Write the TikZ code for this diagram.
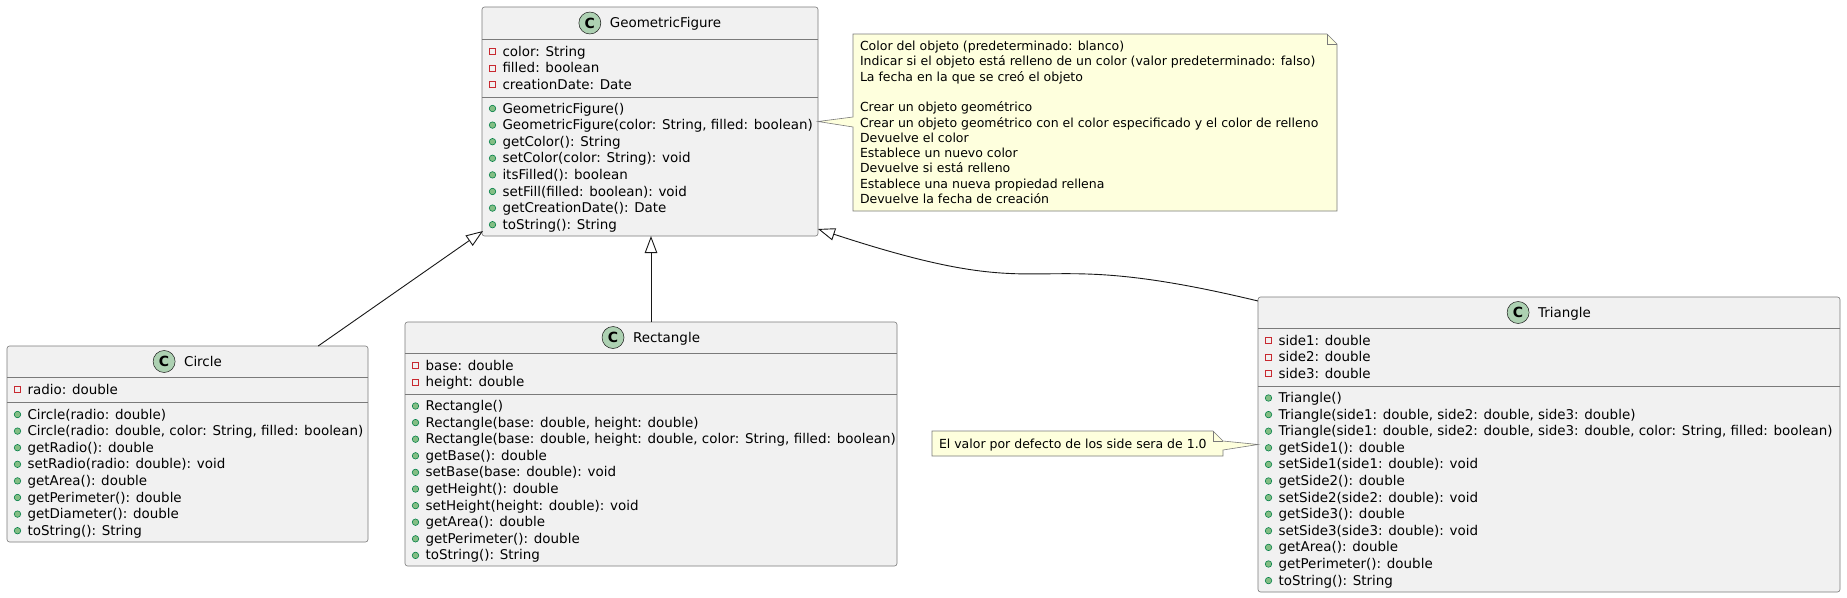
\documentclass[tikz,border=0pt]{standalone}
\usepackage{fontspec}
\setmainfont{DejaVu Sans}
\usetikzlibrary{arrows.meta,calc}
\definecolor{classbg}{HTML}{F1F1F1}
\definecolor{ink}{HTML}{181818}
\definecolor{boxline}{HTML}{7A7A7A}
\definecolor{spotbg}{HTML}{ADD1B2}
\definecolor{notebg}{HTML}{FEFFDD}
\definecolor{privred}{HTML}{C82930}
\definecolor{publight}{HTML}{84BE84}
\definecolor{pubdark}{HTML}{038048}
\tikzset{
  classbox/.style={draw=boxline, fill=classbg, line width=0.6pt, rounded corners=2.5pt,
    inner sep=0pt, outer sep=0pt, anchor=north west},
  sepline/.style={draw=boxline, line width=0.6pt},
  titletext/.style={inner sep=0pt, outer sep=0pt, text height=9.8pt, text depth=0pt,
    font=\fontsize{13.45}{16}\selectfont},
  spot/.style={circle, draw=ink, line width=0.5pt, fill=spotbg, minimum size=22pt,
    inner sep=0pt, font=\fontsize{14}{14}\selectfont\bfseries},
  member/.style={anchor=west, inner sep=0pt, outer sep=0pt, text height=9pt, text depth=0pt,
    font=\fontsize{13.45}{16}\selectfont},
  priv/.style={rectangle, draw=privred, line width=0.8pt, minimum size=6pt, inner sep=0pt},
  pub/.style={circle, draw=pubdark, fill=publight, line width=0.6pt, minimum size=6.5pt, inner sep=0pt},
  notearea/.style={anchor=north west, inner sep=0pt, outer sep=0pt},
  noteshape/.style={draw=boxline, fill=notebg, line width=0.6pt, line join=miter},
  notetext/.style={anchor=base west, inner sep=0pt, outer sep=0pt,
    font=\fontsize{12.5}{15}\selectfont},
  inh/.style={draw=ink, line width=0.9pt, -{Triangle[open, length=17pt, width=12.5pt]}}
}
\newcommand\memberlist[4]{%
  \foreach \mitem [count=\i from 0] in {#4}{%
    \node[#3] (#1-#3-\i) at ($(#1.north west)+(10.5,#2+16.6*\i)$) {};
    \node[member] (#1-#3-t\i) at ($(#1.north west)+(20.5,#2+16.6*\i)$) {\mitem};
  }}
\begin{document}
\begin{tikzpicture}[x=1pt,y=-1pt]
\fill[white] (0,0) rectangle (1847,597);
\useasboundingbox (0,0) rectangle (1847,597);

% ---------- class boxes ----------
\node[classbox, minimum width=336pt, minimum height=229pt] (gf) at (482,7) {};
\node[classbox, minimum width=361pt, minimum height=196pt] (circ) at (7,346) {};
\node[classbox, minimum width=492pt, minimum height=244pt] (rect) at (405,322) {};
\node[classbox, minimum width=582pt, minimum height=295pt] (tri) at (1258,297) {};

% separators
\draw[sepline] ($(gf.north west)+(0,32)$) -- ($(gf.north east)+(0,32)$);
\draw[sepline] ($(gf.north west)+(0,90)$) -- ($(gf.north east)+(0,90)$);
\draw[sepline] ($(circ.north west)+(0,31)$) -- ($(circ.north east)+(0,31)$);
\draw[sepline] ($(circ.north west)+(0,56)$) -- ($(circ.north east)+(0,56)$);
\draw[sepline] ($(rect.north west)+(0,31)$) -- ($(rect.north east)+(0,31)$);
\draw[sepline] ($(rect.north west)+(0,72)$) -- ($(rect.north east)+(0,72)$);
\draw[sepline] ($(tri.north west)+(0,31)$) -- ($(tri.north east)+(0,31)$);
\draw[sepline] ($(tri.north west)+(0,89)$) -- ($(tri.north east)+(0,89)$);

% titles
\node[titletext] (gf-name) at ($(gf.north)+(15.5,16)$) {GeometricFigure};
\node[spot] (gf-spot) at ($(gf-name.west)+(-20,0)$) {C};
\node[titletext] (circ-name) at ($(circ.north)+(15.5,15.5)$) {Circle};
\node[spot] (circ-spot) at ($(circ-name.west)+(-20,0)$) {C};
\node[titletext] (rect-name) at ($(rect.north)+(15.5,15.5)$) {Rectangle};
\node[spot] (rect-spot) at ($(rect-name.west)+(-20,0)$) {C};
\node[titletext] (tri-name) at ($(tri.north)+(15.5,15.5)$) {Triangle};
\node[spot] (tri-spot) at ($(tri-name.west)+(-20,0)$) {C};

% members
\memberlist{gf}{44.5}{priv}{{color: String},{filled: boolean},{creationDate: Date}}
\memberlist{gf}{101.5}{pub}{{GeometricFigure()},{GeometricFigure(color: String, filled: boolean)},{getColor(): String},{setColor(color: String): void},{itsFilled(): boolean},{setFill(filled: boolean): void},{getCreationDate(): Date},{toString(): String}}

\memberlist{circ}{43.5}{priv}{{radio: double}}
\memberlist{circ}{68.5}{pub}{{Circle(radio: double)},{Circle(radio: double, color: String, filled: boolean)},{getRadio(): double},{setRadio(radio: double): void},{getArea(): double},{getPerimeter(): double},{getDiameter(): double},{toString(): String}}

\memberlist{rect}{43.5}{priv}{{base: double},{height: double}}
\memberlist{rect}{84}{pub}{{Rectangle()},{Rectangle(base: double, height: double)},{Rectangle(base: double, height: double, color: String, filled: boolean)},{getBase(): double},{setBase(base: double): void},{getHeight(): double},{setHeight(height: double): void},{getArea(): double},{getPerimeter(): double},{toString(): String}}

\memberlist{tri}{43.5}{priv}{{side1: double},{side2: double},{side3: double}}
\memberlist{tri}{101}{pub}{{Triangle()},{Triangle(side1: double, side2: double, side3: double)},{Triangle(side1: double, side2: double, side3: double, color: String, filled: boolean)},{getSide1(): double},{setSide1(side1: double): void},{getSide2(): double},{setSide2(side2: double): void},{getSide3(): double},{setSide3(side3: double): void},{getArea(): double},{getPerimeter(): double},{toString(): String}}

% ---------- inheritance ----------
\draw[inh] ($(circ.north west)!0.862!(circ.north east)$) -- ($(gf.south west)+(1,-5)$);
\draw[inh] (rect.north) -- (rect.north |- gf.south);
\draw[inh] ($(tri.north west)+(0,4)$) .. controls (1009,241) and (1068,311) .. ($(gf.south east)+(0,-7)$);

% ---------- note 1 ----------
\node[notearea, minimum width=484pt, minimum height=177pt] (n1) at (853,34) {};
\filldraw[noteshape] (n1.north west) -- ($(n1.north east)+(-10,0)$) -- ($(n1.north east)+(0,10)$)
  -- (n1.south east) -- (n1.south west) -- ($(n1.north west)+(0,93)$) -- (gf.east)
  -- ($(n1.north west)+(0,83)$) -- cycle;
\draw[noteshape, fill=none] ($(n1.north east)+(-10,0)$) -- ($(n1.north east)+(-10,10)$) -- ($(n1.north east)+(0,10)$);
\foreach \mitem [count=\i from 0] in {{Color del objeto (predeterminado: blanco)},{Indicar si el objeto está relleno de un color (valor predeterminado: falso)},{La fecha en la que se creó el objeto}}{
  \node[notetext] (n1-a\i) at ($(n1.north west)+(7,16.5+15.3*\i)$) {\mitem};
}
\foreach \mitem [count=\i from 4] in {{Crear un objeto geométrico},{Crear un objeto geométrico con el color especificado y el color de relleno},{Devuelve el color},{Establece un nuevo color},{Devuelve si está relleno},{Establece una nueva propiedad rellena},{Devuelve la fecha de creación}}{
  \node[notetext] (n1-b\i) at ($(n1.north west)+(7,16.5+15.3*\i)$) {\mitem};
}

% ---------- note 2 ----------
\node[notearea, minimum width=291pt, minimum height=25pt] (n2) at (932,431) {};
\filldraw[noteshape] (n2.north west) -- ($(n2.north east)+(-10,0)$) -- ($(n2.north east)+(0,10)$)
  -- (tri.west) -- ($(n2.north east)+(0,19)$) -- (n2.south east) -- (n2.south west) -- cycle;
\draw[noteshape, fill=none] ($(n2.north east)+(-10,0)$) -- ($(n2.north east)+(-10,10)$) -- ($(n2.north east)+(0,10)$);
\node[notetext] (n2-t) at ($(n2.north west)+(7,17.3)$) {El valor por defecto de los side sera de 1.0};
\end{tikzpicture}
\end{document}
